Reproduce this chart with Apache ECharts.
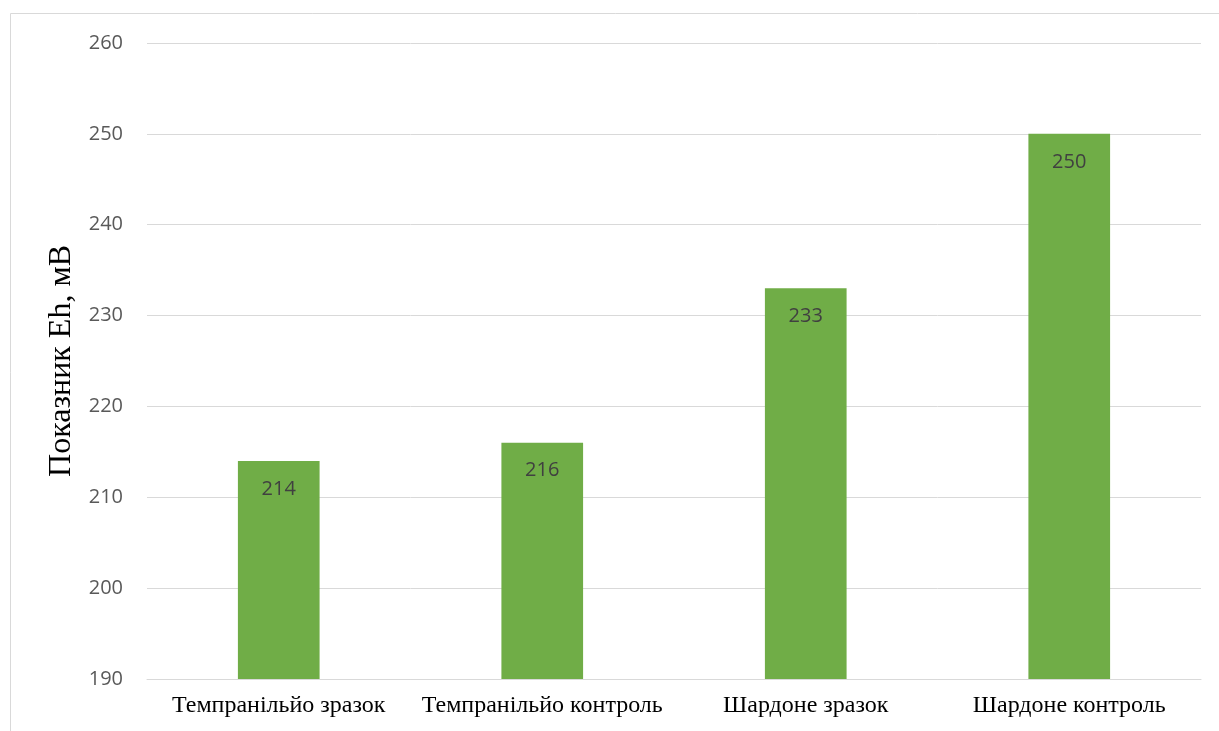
<!DOCTYPE html>
<html>
<head>
<meta charset="utf-8">
<style>
  html, body { margin: 0; padding: 0; background: #fff; }
  #chart { width: 1219px; height: 731px; }
</style>
<script src="https://cdn.jsdelivr.net/npm/echarts@6/dist/echarts.min.js"></script>
</head>
<body>
<div id="chart"></div>
<script>
  const categories = ['Темпранільйо зразок', 'Темпранільйо контроль', 'Шардоне зразок', 'Шардоне контроль'];
  const ehValues = [214, 216, 233, 250];

  const chart = echarts.init(document.getElementById('chart'));

  chart.setOption({
    animation: false,
    graphic: [
      {
        type: 'rect',
        shape: { x: 10.5, y: 13.5, width: 1230, height: 740 },
        style: { fill: 'none', stroke: '#d9d9d9', lineWidth: 1 },
        silent: true
      }
    ],
    grid: { left: 147, right: 18, top: 43, bottom: 52, containLabel: false },
    xAxis: {
      type: 'category',
      data: categories,
      axisLine: { show: true, lineStyle: { color: '#d9d9d9', width: 1 } },
      axisTick: { show: false },
      axisLabel: {
        color: '#000',
        fontFamily: 'Liberation Serif',
        fontSize: 24,
        margin: 15,
        interval: 0
      }
    },
    yAxis: {
      type: 'value',
      min: 190,
      max: 260,
      interval: 10,
      name: 'Показник Eh, мВ',
      nameLocation: 'middle',
      nameGap: 68,
      nameTextStyle: { color: '#000', fontFamily: 'Liberation Serif', fontSize: 32 },
      axisLine: { show: false },
      axisTick: { show: false },
      axisLabel: {
        color: '#595959',
        fontFamily: 'Open Sans',
        fontSize: 20,
        margin: 24
      },
      splitLine: { lineStyle: { color: '#d9d9d9', width: 1 } }
    },
    series: [
      {
        type: 'bar',
        data: ehValues,
        barWidth: '31%',
        itemStyle: { color: '#70ad47' },
        label: {
          show: true,
          position: 'insideTop',
          distance: 18,
          color: '#404040',
          fontFamily: 'Open Sans',
          fontSize: 20
        }
      }
    ]
  });
</script>
</body>
</html>
